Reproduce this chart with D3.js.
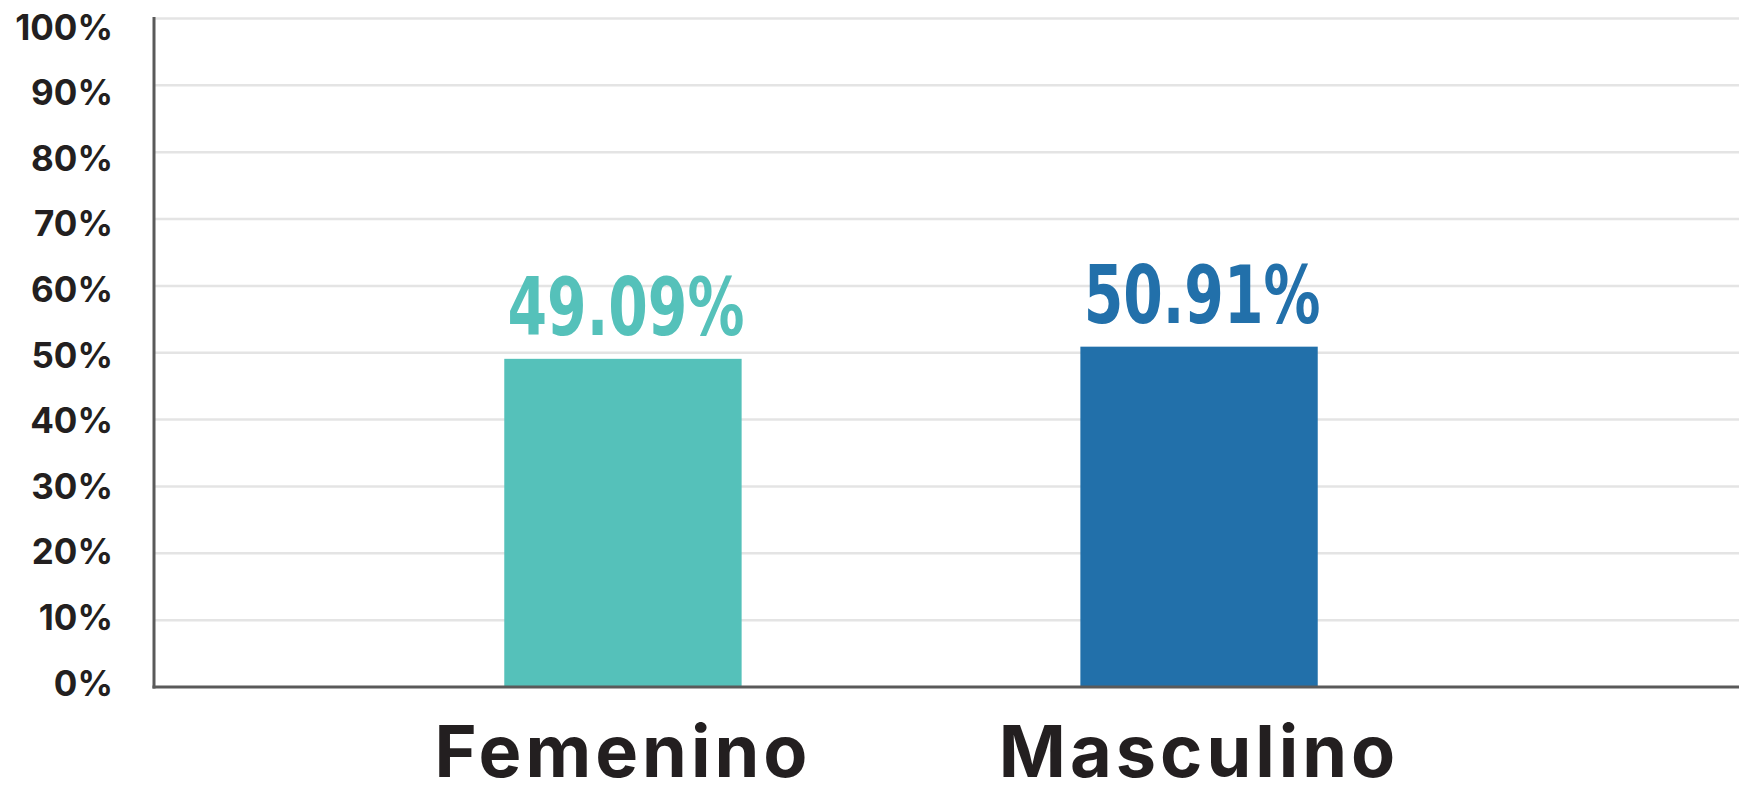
<!DOCTYPE html>
<html>
<head>
<meta charset="utf-8">
<script src="https://cdn.jsdelivr.net/npm/d3@7"></script>
<style>
  body { margin: 0; background: #fff; }
  .tick-label { font-family: Inter, "Noto Sans", sans-serif; font-weight: 700; fill: #231f20; }
  .cat-label { font-family: Inter, "Noto Sans", sans-serif; font-weight: 700; fill: #231f20; letter-spacing: 4px; }
  .val-label { font-family: "Liberation Sans Narrow", "DejaVu Sans Condensed", sans-serif; font-weight: 700; }
</style>
</head>
<body>
<div id="chart"></div>
<script>
// data
const categories = ["Femenino", "Masculino"];
const values = [49.09, 50.91];
const valueLabels = ["49.09%", "50.91%"];
const barColors = ["#55c1ba", "#2270aa"];
const tickValues = [0, 10, 20, 30, 40, 50, 60, 70, 80, 90, 100];

const W = 1739, H = 787;

const svg = d3.select("#chart").append("svg")
    .attr("width", W)
    .attr("height", H);

// scales
let y = d3.scaleLinear().domain([0, 100]).range([687, 18.5]);
let yLabel = d3.scaleLinear().domain([0, 100]).range([683, 27]);
let x = d3.scaleBand().domain(categories).range([154, 1668])
    .paddingInner(0.588).paddingOuter(0.608);

// gridlines
svg.append("g").selectAll("line")
    .data(tickValues.filter(d => d > 0))
    .enter().append("line")
    .attr("x1", 155).attr("x2", W)
    .attr("y1", d => y(d)).attr("y2", d => y(d))
    .attr("stroke", "#e4e4e4")
    .attr("stroke-width", 2.5);

// y tick labels
svg.append("g").selectAll("text")
    .data(tickValues)
    .enter().append("text")
    .attr("class", "tick-label")
    .attr("x", 113)
    .attr("y", d => yLabel(d))
    .attr("dy", "0.36em")
    .attr("text-anchor", "end")
    .attr("font-size", 35)
    .text(d => d + "%");

// bars
svg.append("g").selectAll("rect")
    .data(values)
    .enter().append("rect")
    .attr("x", (d, i) => x(categories[i]))
    .attr("width", x.bandwidth())
    .attr("y", d => y(d))
    .attr("height", d => y(0) - y(d))
    .attr("fill", (d, i) => barColors[i]);

// value labels (squeezed horizontally, the original face is narrow)
svg.append("g").selectAll("text")
    .data(values)
    .enter().append("text")
    .attr("class", "val-label")
    .attr("x", (d, i) => x(categories[i]) + x.bandwidth() / 2 + 3)
    .attr("y", d => y(d) - 24)
    .attr("text-anchor", "middle")
    .attr("font-size", 80)
    .attr("fill", (d, i) => barColors[i])
    .text((d, i) => valueLabels[i])
    .each(function () {
        let w = this.getComputedTextLength();
        d3.select(this)
            .attr("textLength", w * 0.79)
            .attr("lengthAdjust", "spacingAndGlyphs");
    });

// axes lines
svg.append("line")
    .attr("x1", 154).attr("x2", 154)
    .attr("y1", 17).attr("y2", 688.5)
    .attr("stroke", "#5a5a5a").attr("stroke-width", 3);
svg.append("line")
    .attr("x1", 152.5).attr("x2", W)
    .attr("y1", 687).attr("y2", 687)
    .attr("stroke", "#5a5a5a").attr("stroke-width", 3);

// category labels
svg.append("g").selectAll("text")
    .data(categories)
    .enter().append("text")
    .attr("class", "cat-label")
    .attr("x", d => x(d) + x.bandwidth() / 2)
    .attr("y", 777)
    .attr("text-anchor", "middle")
    .attr("font-size", 72)
    .text(d => d);
</script>
</body>
</html>
